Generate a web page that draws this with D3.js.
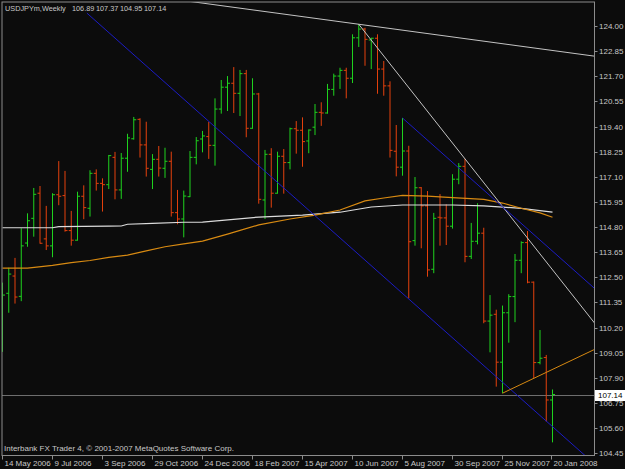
<!DOCTYPE html>
<html>
<head>
<meta charset="utf-8">
<script src="https://d3js.org/d3.v7.min.js"></script>
<style>
  html, body { margin: 0; padding: 0; background: #0c0c0c; }
  svg { display: block; }
  text { font-family: "Liberation Sans", Arial, sans-serif; font-size: 8px; fill: #c8c8c8; }
  .header { font-size: 7.3px; }
</style>
</head>
<body>
<svg id="chart"></svg>
<script>
// USDJPY weekly, 14 May 2006 .. 20 Jan 2008 (one value per week)
const symbol = "USDJPYm,Weekly";
const copyright = "Interbank FX Trader 4, \u00a9 2001-2007 MetaQuotes Software Corp.";

const opens = [109.86, 111.77, 112.56, 111.63, 114.07, 115.20, 116.35, 114.26, 113.94, 116.28,
  116.24, 114.64, 114.20, 116.21, 115.66, 117.26, 116.80, 116.74, 117.99, 116.50,
  117.95, 118.84, 119.73, 118.56, 117.44, 117.90, 117.49, 117.81, 115.46, 115.17,
  116.19, 117.99, 118.83, 118.94, 118.54, 120.20, 121.20, 121.38, 120.92, 121.82,
  119.32, 120.89, 116.04, 118.13, 116.35, 118.04, 117.75, 119.30, 119.23, 118.74,
  119.37, 120.05, 120.02, 121.10, 121.71, 121.97, 121.61, 123.46, 123.86, 123.36,
  123.44, 122.03, 121.26, 118.27, 117.54, 118.28, 114.18, 116.60, 115.77, 112.87,
  115.25, 115.22, 114.84, 116.99, 117.58, 113.46, 114.15, 114.52, 110.50, 110.81,
  108.62, 110.88, 111.62, 113.28, 114.09, 112.28, 108.60, 108.83, 106.89];
const highs = [112.26, 112.94, 113.39, 114.75, 115.43, 116.59, 116.68, 115.77, 116.35, 117.82,
  117.37, 115.54, 116.42, 116.71, 117.40, 117.44, 117.03, 118.10, 118.24, 118.19,
  119.07, 119.84, 119.78, 119.62, 118.14, 118.51, 118.43, 118.25, 116.50, 116.47,
  118.28, 118.92, 119.20, 119.61, 120.69, 121.53, 121.71, 122.12, 121.99, 121.99,
  121.61, 120.94, 118.33, 118.41, 118.25, 118.37, 119.35, 119.65, 119.82, 119.27,
  120.43, 120.51, 121.35, 121.82, 122.09, 122.09, 123.62, 124.08, 123.92, 123.46,
  123.62, 122.40, 121.47, 119.47, 119.79, 118.52, 117.09, 116.63, 116.45, 115.45,
  116.31, 115.84, 117.22, 117.73, 117.92, 114.99, 115.89, 114.77, 111.69, 111.02,
  111.21, 111.73, 113.57, 114.15, 114.62, 112.31, 110.09, 108.95, 107.37];
const lows = [109.09, 110.88, 111.30, 111.41, 113.90, 114.36, 114.04, 113.75, 113.42, 115.80,
  114.59, 113.95, 114.18, 115.16, 115.28, 116.47, 115.51, 116.54, 116.07, 116.09,
  117.33, 118.80, 117.98, 117.11, 116.54, 117.11, 117.05, 115.28, 114.93, 114.33,
  116.17, 117.67, 118.22, 117.92, 117.61, 119.99, 120.11, 120.02, 119.88, 118.91,
  119.30, 115.87, 115.17, 115.69, 116.33, 116.33, 117.44, 118.16, 117.56, 118.18,
  119.01, 119.43, 119.99, 120.81, 121.12, 120.69, 121.39, 123.04, 122.18, 122.03,
  120.90, 120.81, 117.98, 117.12, 117.15, 111.54, 113.95, 113.83, 112.53, 112.69,
  113.95, 113.98, 114.73, 116.76, 113.19, 113.34, 114.01, 110.40, 109.07, 107.50,
  107.20, 109.51, 110.45, 112.69, 112.23, 107.88, 108.52, 105.90, 104.95];
const closes = [111.69, 112.65, 111.60, 113.94, 115.09, 116.30, 114.06, 113.94, 116.28, 116.21,
  114.64, 114.20, 116.21, 115.69, 117.26, 116.80, 116.74, 118.07, 116.50, 117.95,
  118.88, 119.71, 118.56, 117.49, 117.90, 117.50, 117.81, 115.46, 115.17, 116.22,
  117.99, 118.75, 118.97, 118.54, 120.20, 121.20, 121.38, 120.92, 121.82, 119.32,
  120.89, 116.07, 118.13, 116.35, 118.04, 117.75, 119.30, 119.23, 118.71, 119.24,
  120.05, 120.02, 121.10, 121.71, 121.97, 121.61, 123.46, 123.86, 123.39, 123.44,
  122.03, 121.26, 118.31, 117.54, 118.28, 114.13, 116.60, 115.77, 112.84, 115.20,
  115.22, 114.84, 116.99, 117.58, 113.46, 114.15, 114.52, 110.50, 110.77, 108.62,
  110.88, 111.62, 113.28, 114.09, 112.28, 108.60, 108.80, 106.89, 107.14];

// moving averages, read at bar indexes
const maSlowIdx = [0, 8, 9, 17, 19, 20, 24, 29, 32, 41, 48, 54, 59, 64, 72, 77, 83, 88];
const maSlowVal = [114.77, 114.77, 114.82, 114.84, 114.85, 114.93, 114.97, 115.02, 115.03, 115.26,
  115.35, 115.48, 115.72, 115.81, 115.81, 115.77, 115.66, 115.48];
const maFastIdx = [0, 4, 8, 11, 14, 17, 20, 23, 26, 29, 32, 36, 41, 46, 50, 54, 58, 61, 64, 68, 72, 77, 80, 83, 86, 88];
const maFastVal = [112.92, 112.92, 113.05, 113.17, 113.27, 113.41, 113.52, 113.71, 113.90, 114.03,
  114.16, 114.48, 114.90, 115.17, 115.35, 115.58, 116.00, 116.13, 116.25, 116.22,
  116.15, 116.07, 115.90, 115.66, 115.45, 115.25];

// drawn objects: two anchors [barIndex, price]
const trendTop = [[57, 124.08], [88, 122.88]];
const trendSteep = [[57, 124.08], [74, 117.92]];
const channelUpper = [[64, 119.79], [88, 113.70]];
const channelLower = [[13.5, 124.59], [88, 105.67]];
const trendSupport = [[80, 107.20], [85, 107.88]];

const priceTicks = [124.00, 122.85, 121.70, 120.55, 119.40, 118.25, 117.10, 115.95, 114.80,
  113.65, 112.50, 111.35, 110.20, 109.05, 107.90, 106.75, 105.60, 104.45];
const dateTickIdx = [0, 8, 16, 24, 32, 40, 48, 56, 64, 72, 80, 88];
const dateTickLabels = ["14 May 2006", "9 Jul 2006", "3 Sep 2006", "29 Oct 2006", "24 Dec 2006",
  "18 Feb 2007", "15 Apr 2007", "10 Jun 2007", "5 Aug 2007", "30 Sep 2007", "25 Nov 2007", "20 Jan 2008"];

const width = 625, height = 469;
const plotLeft = 2, plotRight = 594.5, plotTop = 2, plotBottom = 455.5;
const lastIdx = 94.7;

const svg = d3.select("#chart").attr("width", width).attr("height", height);
svg.append("rect").attr("width", width).attr("height", height).attr("fill", "#0c0c0c");

const x = d3.scaleLinear().domain([0, lastIdx]).range([2.5, 2.5 + lastIdx * 6.25]);
const y = d3.scaleLinear().domain([104.45, 124.00]).range([453.3, 26]);

svg.append("clipPath").attr("id", "plotclip")
  .append("rect").attr("x", plotLeft).attr("y", plotTop)
  .attr("width", plotRight - plotLeft).attr("height", plotBottom - plotTop);

const plot = svg.append("g").attr("clip-path", "url(#plotclip)");

// bid line
const last = closes[closes.length - 1];
const bidY = Math.round(y(last)) + 0.5;
plot.append("line")
  .attr("x1", plotLeft).attr("x2", plotRight)
  .attr("y1", bidY).attr("y2", bidY)
  .attr("stroke", "#6e6e6e");

// OHLC bars
const bars = d3.range(opens.length).map(i => ({ i, o: opens[i], h: highs[i], l: lows[i], c: closes[i] }));
plot.selectAll(".bar")
  .data(bars)
  .enter()
  .append("path")
  .attr("class", "bar")
  .attr("d", d => {
    const cx = x(d.i);
    return `M${cx},${y(d.h)}V${y(d.l)}M${cx - 2.5},${y(d.o)}H${cx}M${cx},${y(d.c)}H${cx + 2.5}`;
  })
  .attr("fill", "none")
  .attr("stroke", d => d.c >= d.o ? "#1ed21e" : "#e4400c")
  .attr("stroke-width", 1);

// moving averages
const maLine = d3.line().x(d => x(d[0])).y(d => y(d[1]));
plot.append("path")
  .attr("d", maLine(maSlowIdx.map((v, k) => [v, maSlowVal[k]])))
  .attr("fill", "none").attr("stroke", "#dcdcdc").attr("stroke-width", 1.2);
plot.append("path")
  .attr("d", maLine(maFastIdx.map((v, k) => [v, maFastVal[k]])))
  .attr("fill", "none").attr("stroke", "#d88a12").attr("stroke-width", 1.2);

// trend lines, extended as rays to the right edge
function ray(pts, fromStart) {
  const [a, b] = pts;
  const slope = (b[1] - a[1]) / (b[0] - a[0]);
  const i0 = fromStart ? -5 : a[0];
  return [[i0, a[1] + slope * (i0 - a[0])], [lastIdx + 2, a[1] + slope * (lastIdx + 2 - a[0])]];
}
const objects = [
  { pts: trendTop, full: true, color: "#c4c4c4" },
  { pts: trendSteep, full: false, color: "#c4c4c4" },
  { pts: channelUpper, full: false, color: "#1c1cc4" },
  { pts: channelLower, full: false, color: "#1c1cc4" },
  { pts: trendSupport, full: false, color: "#d88a12" }
];
objects.forEach(o => {
  plot.append("path")
    .attr("d", maLine(ray(o.pts, o.full)))
    .attr("fill", "none").attr("stroke", o.color).attr("stroke-width", 1);
});

// frame
svg.append("rect")
  .attr("x", plotLeft).attr("y", plotTop)
  .attr("width", plotRight - plotLeft).attr("height", plotBottom - plotTop)
  .attr("fill", "none").attr("stroke", "#8c8c8c");

// price axis
const fmt = d3.format(".2f");
priceTicks.forEach(p => {
  const py = Math.round(y(p)) + 0.5;
  svg.append("line").attr("x1", plotRight).attr("x2", plotRight + 3)
    .attr("y1", py).attr("y2", py).attr("stroke", "#8c8c8c");
  svg.append("text").attr("x", 599).attr("y", py).attr("dy", "0.35em").text(fmt(p));
});

// bid tag
svg.append("rect").attr("x", 595).attr("y", bidY - 5.5)
  .attr("width", 30).attr("height", 11).attr("fill", "#ffffff");
svg.append("text").attr("x", 598).attr("y", bidY).attr("dy", "0.35em")
  .style("fill", "#000000").text(fmt(last));

// time axis
dateTickIdx.forEach((idx, k) => {
  const tx = Math.round(x(idx)) - 0.5;
  svg.append("line").attr("x1", tx).attr("x2", tx)
    .attr("y1", plotBottom).attr("y2", plotBottom + 4).attr("stroke", "#8c8c8c");
  svg.append("text").attr("x", tx + 2).attr("y", 463).attr("dy", "0.35em").text(dateTickLabels[k]);
});

// header
const n = opens.length - 1;
const header = [symbol, fmt(opens[n]), fmt(highs[n]), fmt(lows[n]), fmt(closes[n])];
const headerX = [5, 72, 96, 120, 144];
header.forEach((t, k) => {
  svg.append("text").attr("class", "header")
    .attr("x", headerX[k]).attr("y", 8).attr("dy", "0.35em").text(t);
});

svg.append("text").attr("x", 4).attr("y", 448).attr("dy", "0.35em").text(copyright);
</script>
</body>
</html>
